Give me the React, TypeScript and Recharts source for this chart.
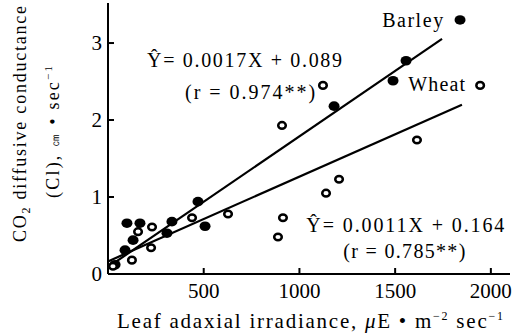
import {
    ReferenceDot,
    Scatter,
    ScatterChart,
    XAxis,
    YAxis,
} from 'recharts';

const FONT = '"Liberation Serif", "DejaVu Serif", serif';

const X_TICKS = [500, 1000, 1500, 2000];
const Y_TICKS = [0, 1, 2, 3];

// barley (filled dots)
const BARLEY_X = [37, 89, 99, 131, 167, 308, 334, 470, 507, 1181, 1489, 1557, 1839];
const BARLEY_Y = [0.12, 0.31, 0.66, 0.44, 0.66, 0.53, 0.68, 0.94, 0.62, 2.18, 2.51, 2.77, 3.3];

// wheat (open circles)
const WHEAT_X = [26, 125, 157, 225, 230, 439, 627, 888, 914, 909, 1123, 1139, 1207, 1614, 1944];
const WHEAT_Y = [0.1, 0.18, 0.55, 0.34, 0.61, 0.73, 0.78, 0.48, 0.73, 1.93, 2.45, 1.05, 1.23, 1.74, 2.45];

// regression lines, end points
const BARLEY_FIT_X = [0, 1745];
const BARLEY_FIT_Y = [0.089, 3.055];
const WHEAT_FIT_X = [0, 1849];
const WHEAT_FIT_Y = [0.164, 2.198];

const zip = (xs: number[], ys: number[]) => xs.map((x, i) => ({ x, y: ys[i] }));

const barley = zip(BARLEY_X, BARLEY_Y);
const wheat = zip(WHEAT_X, WHEAT_Y);
const barleyFit = zip(BARLEY_FIT_X, BARLEY_FIT_Y);
const wheatFit = zip(WHEAT_FIT_X, WHEAT_FIT_Y);

function FilledDot(props: any) {
    return <ellipse cx={props.cx} cy={props.cy} rx={5.5} ry={4.8} fill="#000" />;
}

function OpenDot(props: any) {
    return (
        <ellipse
            cx={props.cx}
            cy={props.cy}
            rx={3.8}
            ry={3.3}
            fill="#fff"
            stroke="#000"
            strokeWidth={2.5}
        />
    );
}

function NoDot() {
    return <g />;
}

type Line = { text: React.ReactNode; dx: number; dy: number; len: number };

function textLabel(lines: Line[]) {
    return (props: any) => {
        const { x, y } = props.viewBox;
        return (
            <g>
                {lines.map((l, i) => (
                    <text
                        key={i}
                        x={x + l.dx}
                        y={y + l.dy}
                        fontFamily={FONT}
                        fontSize={20}
                        fill="#000"
                        textLength={l.len}
                        lengthAdjust="spacing"
                    >
                        {l.text}
                    </text>
                ))}
            </g>
        );
    };
}

const tickStyle = { fill: '#000', fontSize: 21, fontFamily: FONT };

export default function App() {
    return (
        <div style={{ position: 'absolute', left: 0, top: 0, width: 525, height: 336, background: '#fff' }}>
            <ScatterChart
                width={525}
                height={336}
                margin={{ top: 3, right: 15, bottom: 22, left: 0 }}
            >
                <XAxis
                    xAxisId="b"
                    type="number"
                    dataKey="x"
                    domain={[0, 2100]}
                    ticks={X_TICKS}
                    height={40}
                    tickSize={-6}
                    tickMargin={15}
                    stroke="#000"
                    strokeWidth={2}
                    tick={tickStyle}
                    allowDataOverflow
                />
                <XAxis
                    xAxisId="t"
                    orientation="top"
                    type="number"
                    dataKey="x"
                    domain={[0, 2100]}
                    height={0}
                    tick={false}
                    tickLine={false}
                    stroke="#000"
                    strokeWidth={2}
                />
                <YAxis
                    yAxisId="l"
                    type="number"
                    dataKey="y"
                    domain={[0, 3.52]}
                    ticks={Y_TICKS}
                    width={108}
                    tickSize={-6}
                    tickMargin={12}
                    stroke="#000"
                    strokeWidth={2}
                    tick={tickStyle}
                    allowDataOverflow
                />
                <YAxis
                    yAxisId="r"
                    orientation="right"
                    type="number"
                    dataKey="y"
                    domain={[0, 3.52]}
                    width={0}
                    tick={false}
                    tickLine={false}
                    stroke="#000"
                    strokeWidth={2}
                />
                <Scatter
                    xAxisId="b"
                    yAxisId="l"
                    data={barleyFit}
                    line={{ stroke: '#000', strokeWidth: 2.2 }}
                    shape={<NoDot />}
                    isAnimationActive={false}
                />
                <Scatter
                    xAxisId="b"
                    yAxisId="l"
                    data={wheatFit}
                    line={{ stroke: '#000', strokeWidth: 2.2 }}
                    shape={<NoDot />}
                    isAnimationActive={false}
                />
                <Scatter
                    xAxisId="b"
                    yAxisId="l"
                    data={barley}
                    shape={<FilledDot />}
                    isAnimationActive={false}
                />
                <Scatter
                    xAxisId="b"
                    yAxisId="l"
                    data={wheat}
                    shape={<OpenDot />}
                    isAnimationActive={false}
                />
                <ReferenceDot
                    xAxisId="b"
                    yAxisId="l"
                    x={204}
                    y={2.69}
                    r={0}
                    stroke="none"
                    label={textLabel([
                        { text: 'Ŷ= 0.0017X + 0.089', dx: 0, dy: 0, len: 195 },
                        { text: '(r = 0.974**)', dx: 38, dy: 32, len: 130 },
                    ])}
                />
                <ReferenceDot
                    xAxisId="b"
                    yAxisId="l"
                    x={1432}
                    y={3.21}
                    r={0}
                    stroke="none"
                    label={textLabel([{ text: 'Barley', dx: 0, dy: 0, len: 61 }])}
                />
                <ReferenceDot
                    xAxisId="b"
                    yAxisId="l"
                    x={1568}
                    y={2.38}
                    r={0}
                    stroke="none"
                    label={textLabel([{ text: 'Wheat', dx: 0, dy: 0, len: 57 }])}
                />
                <ReferenceDot
                    xAxisId="b"
                    yAxisId="l"
                    x={1036}
                    y={0.545}
                    r={0}
                    stroke="none"
                    label={textLabel([
                        { text: 'Ŷ= 0.0011X + 0.164', dx: 0, dy: 0, len: 198 },
                        { text: '(r = 0.785**)', dx: 37, dy: 26, len: 122 },
                    ])}
                />
            </ScatterChart>
            <svg
                width={525}
                height={336}
                style={{ position: 'absolute', left: 0, top: 0, pointerEvents: 'none' }}
                fontFamily={FONT}
                fill="#000"
            >
                <text x={117} y={328} fontSize={21} textLength={386} lengthAdjust="spacing">
                    Leaf adaxial irradiance, <tspan fontStyle="italic">μ</tspan>E • m
                    <tspan fontSize={12} dy={-8}>−2</tspan>
                    <tspan dy={8}> sec</tspan>
                    <tspan fontSize={12} dy={-8}>−1</tspan>
                </text>
                <text
                    transform="translate(26,242) rotate(-90)"
                    fontSize={18}
                    textLength={236}
                    lengthAdjust="spacing"
                >
                    CO<tspan fontSize={12} dy={4}>2</tspan>
                    <tspan dy={-4}> diffusive conductance</tspan>
                </text>
                <text
                    transform="translate(59,198) rotate(-90)"
                    fontSize={18}
                    textLength={132}
                    lengthAdjust="spacing"
                >
                    (Cl), <tspan fontSize={13}>㎝</tspan> • sec
                    <tspan fontSize={11} dy={-7}>−1</tspan>
                </text>
            </svg>
        </div>
    );
}
